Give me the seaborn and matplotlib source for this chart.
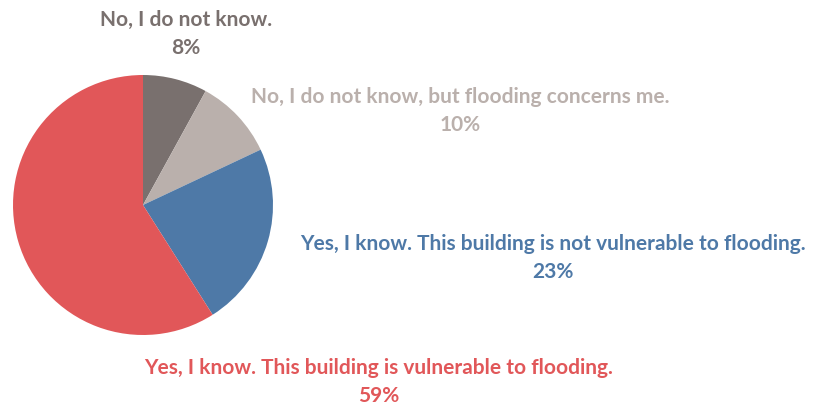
import matplotlib
matplotlib.use("Agg")
import matplotlib.pyplot as plt
import seaborn as sns

# survey answers, clockwise from 12 o'clock
answers = [
    "No, I do not know.",
    "No, I do not know, but flooding concerns me.",
    "Yes, I know. This building is not vulnerable to flooding.",
    "Yes, I know. This building is vulnerable to flooding.",
]
shares = [8, 10, 23, 59]
colors = ["#79706e", "#bab0ac", "#4e79a7", "#e15759"]

W, H = 822, 405

sns.set_theme(style="white")
plt.rcParams["font.family"] = ["Lato", "DejaVu Sans"]

fig = plt.figure(figsize=(W / 100, H / 100), dpi=100)
# pie sits in a 260 px square, centre at (143, 205)
ax = fig.add_axes([13 / W, (H - 335) / H, 260 / W, 260 / H])
ax.pie(shares, colors=sns.color_palette(colors), startangle=90, counterclock=False,
       radius=1.0, wedgeprops=dict(linewidth=0))
ax.set_xlim(-1, 1)
ax.set_ylim(-1, 1)
ax.set_aspect("equal")
ax.axis("off")

# label anchors in pixels (centre x, y of first line)
label_pos = [(186, 20), (460, 97), (553, 244), (379, 368)]
for text, pct, col, (x, y) in zip(answers, shares, colors, label_pos):
    fig.text(x / W, 1 - y / H, text, color=col, fontsize=15, fontweight="bold",
             ha="center", va="center")
    fig.text(x / W, 1 - (y + 28) / H, f"{pct}%", color=col, fontsize=15,
             fontweight="bold", ha="center", va="center")

fig.savefig("out.png", dpi=100)
